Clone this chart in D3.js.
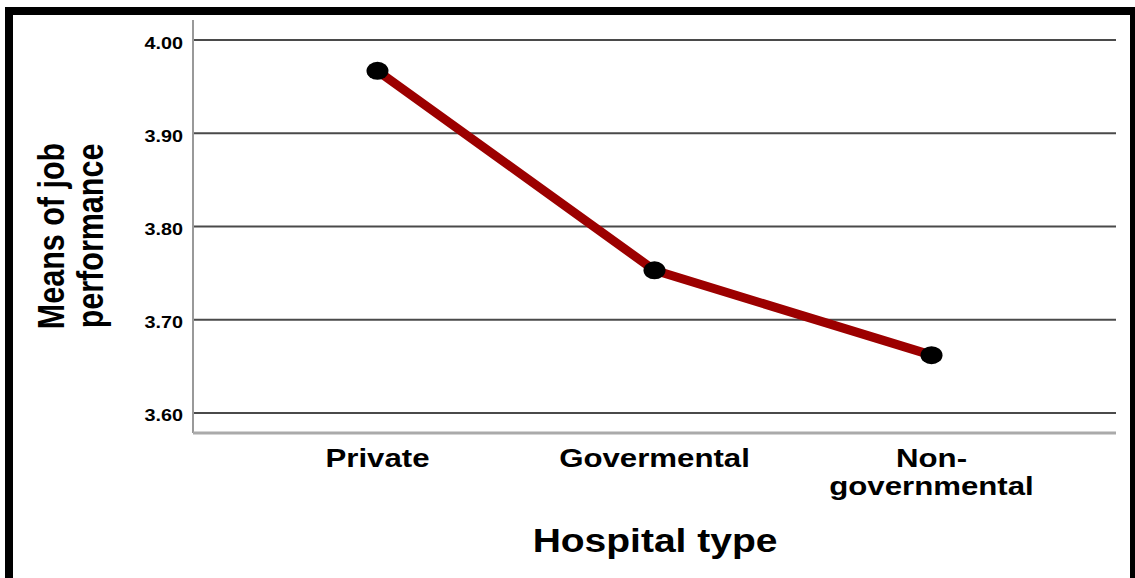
<!DOCTYPE html>
<html>
<head>
<meta charset="utf-8">
<script src="https://cdn.jsdelivr.net/npm/d3@7"></script>
<style>
  html, body { margin: 0; padding: 0; background: #fff; }
  svg { display: block; }
  text { font-family: "Liberation Sans", Arial, sans-serif; font-weight: bold; fill: #000; }
</style>
</head>
<body>
<svg id="chart" width="1135" height="578"></svg>
<script>
const categories = ["Private", "Govermental", "Non-governmental"];
const categoryLines = [["Private"], ["Govermental"], ["Non-", "governmental"]];
const means = [3.967, 3.753, 3.662];
const yTicks = [3.60, 3.70, 3.80, 3.90, 4.00];
const yDomain = [3.5785, 4.0215];
const xTitle = "Hospital type";
const yTitleLines = ["Means of job", "performance"];

const W = 1135, H = 578;
const stretch = 1.2;
const plot = { left: 193, right: 1116, top: 20, bottom: 433 };

const svg = d3.select("#chart");

svg.append("rect").attr("width", W).attr("height", H).attr("fill", "#fff");

const x = d3.scalePoint().domain(categories).range([plot.left, plot.right]).padding(0.666);
const y = d3.scaleLinear().domain(yDomain).range([plot.bottom, plot.top]);

// gridlines
svg.append("g").selectAll("line").data(yTicks).join("line")
  .attr("x1", plot.left).attr("x2", plot.right)
  .attr("y1", d => y(d)).attr("y2", d => y(d))
  .attr("stroke", "#4a4a4a").attr("stroke-width", 2);

// axes lines
svg.append("line").attr("x1", plot.left).attr("x2", plot.left)
  .attr("y1", plot.top).attr("y2", plot.bottom)
  .attr("stroke", "#999").attr("stroke-width", 2);
svg.append("line").attr("x1", plot.left).attr("x2", plot.right)
  .attr("y1", plot.bottom).attr("y2", plot.bottom)
  .attr("stroke", "#aaa").attr("stroke-width", 3);

// y tick labels
svg.append("g").selectAll("text").data(yTicks).join("text")
  .attr("transform", d => `translate(183,${y(d) + 8.5}) scale(${stretch},1)`)
  .attr("text-anchor", "end")
  .attr("font-size", 16.5)
  .text(d => d.toFixed(2));

// x tick labels
const xl = svg.append("g").selectAll("text").data(categories).join("text")
  .attr("transform", d => `translate(${x(d)},467) scale(${stretch},1)`)
  .attr("text-anchor", "middle")
  .attr("font-size", 26);
xl.each(function(d, i) {
  const t = d3.select(this);
  categoryLines[i].forEach((ln, j) => {
    t.append("tspan").attr("x", 0).attr("y", j * 28).text(ln);
  });
});

// line
const line = d3.line().x((d, i) => x(categories[i])).y(d => y(d));
svg.append("path").datum(means)
  .attr("d", line)
  .attr("fill", "none")
  .attr("stroke", "#9c0000")
  .attr("stroke-width", 9)
  .attr("stroke-linejoin", "round");

// markers
svg.append("g").selectAll("ellipse").data(means).join("ellipse")
  .attr("cx", (d, i) => x(categories[i]))
  .attr("cy", d => y(d))
  .attr("rx", 11).attr("ry", 9)
  .attr("fill", "#000");

// x title
svg.append("text")
  .attr("transform", `translate(655,552) scale(${stretch},1)`)
  .attr("text-anchor", "middle")
  .attr("font-size", 32.5)
  .text(xTitle);

// y title
const yt = svg.append("text")
  .attr("transform", `translate(0,236) scale(${stretch},1) rotate(-90)`)
  .attr("text-anchor", "middle")
  .attr("font-size", 30.5);
yTitleLines.forEach((ln, j) => {
  yt.append("tspan").attr("x", 0).attr("y", (j === 0 ? 53 : 86)).text(ln);
});

// border
svg.append("rect")
  .attr("x", 9).attr("y", 11)
  .attr("width", 1125).attr("height", 700)
  .attr("fill", "none").attr("stroke", "#000").attr("stroke-width", 8);
</script>
</body>
</html>
